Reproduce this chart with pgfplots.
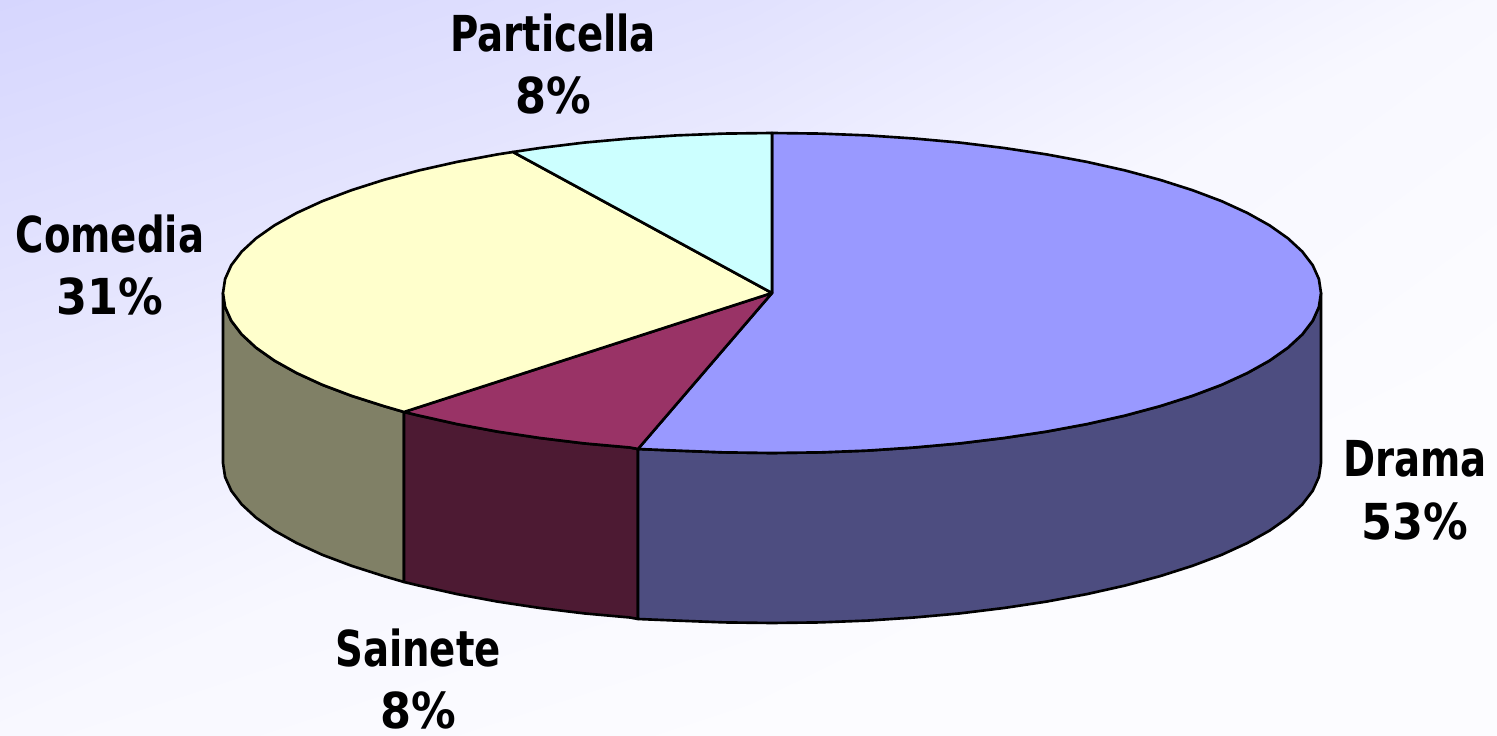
\documentclass[border=0pt]{standalone}
\usepackage{fontspec}
\newfontfamily\lbl{DejaVu Sans Bold}[FakeStretch=0.78]
\newfontfamily\pct{DejaVu Sans Bold}[FakeStretch=0.90]
\usepackage{pgfplots}
\pgfplotsset{compat=1.18}
\usepgfplotslibrary{patchplots}
\definecolor{cDrama}{HTML}{9999FF}
\definecolor{cDramaS}{HTML}{4D4D80}
\definecolor{cSain}{HTML}{993366}
\definecolor{cSainS}{HTML}{4D1A33}
\definecolor{cCom}{HTML}{FFFFCC}
\definecolor{cComS}{HTML}{808066}
\definecolor{cPart}{HTML}{CCFFFF}
\tikzset{lab/.style={font=\fontsize{14.1}{17.9}\selectfont, align=center, text=black, inner sep=0pt}}
\begin{document}
\begin{tikzpicture}
\begin{axis}[
  scale only axis, width=14.97cm, height=7.36cm,
  xmin=0, xmax=1497, ymin=0, ymax=736, y dir=reverse,
  hide axis, clip=true,
  colormap={bg}{rgb255=(214,214,254) rgb255=(252,252,255)},
  point meta min=0, point meta max=1,
]
% background
\addplot[patch, patch type=rectangle, shader=interp, point meta=explicit] coordinates {
 (0,0)[0] (750,0)[0.3] (750,368)[0.85] (0,368)[0.45]
 (750,0)[0.3] (1497,0)[0.9] (1497,368)[1] (750,368)[0.85]
 (0,368)[0.45] (750,368)[0.85] (750,736)[1] (0,736)[0.9]
 (750,368)[0.85] (1497,368)[1] (1497,736)[1] (750,736)[1]
};
\pgfplotsset{every axis plot/.append style={draw=black, line width=0.75pt, line join=round}}
% Comedia side
\addplot[fill=cComS, mark=none] coordinates {
 (404,412) (383.8,406.1) (351.5,395.8) (322.3,384.8) (296.6,373) (274.4,360.6) (256.1,347.7) (241.7,334.4) (231.3,320.8) (225.1,307) (223,293)
 (223,463) (225.1,477) (231.3,490.8) (241.7,504.4) (256.1,517.7) (274.4,530.6) (296.6,543) (322.3,554.8) (351.5,565.8) (383.8,576.1) (404,582)
} -- cycle;
% Sainete side
\addplot[fill=cSainS, mark=none] coordinates {
 (638,449) (629.9,447.5) (584.2,443.4) (540,438) (497.5,431.6) (457.1,424.1) (419.1,415.6) (404,412)
 (404,582) (419.1,585.6) (457.1,594.1) (497.5,601.6) (540,608) (584.2,613.4) (629.9,617.5) (638,619)
} -- cycle;
% Drama side
\addplot[fill=cDramaS, mark=none] coordinates {
 (1321,293) (1318.9,307) (1312.7,320.8) (1302.3,334.4) (1287.9,347.7) (1269.6,360.6) (1247.4,373) (1221.7,384.8) (1192.5,395.8) (1160.2,406.1) (1124.9,415.6) (1086.9,424.1) (1046.5,431.6) (1004,438) (959.8,443.4) (914.1,447.5) (867.3,450.6) (819.9,452.4) (772,453) (724.1,452.4) (676.7,450.6) (638,449)
 (638,619) (676.7,620.6) (724.1,622.4) (772,623) (819.9,622.4) (867.3,620.6) (914.1,617.5) (959.8,613.4) (1004,608) (1046.5,601.6) (1086.9,594.1) (1124.9,585.6) (1160.2,576.1) (1192.5,565.8) (1221.7,554.8) (1247.4,543) (1269.6,530.6) (1287.9,517.7) (1302.3,504.4) (1312.7,490.8) (1318.9,477) (1321,463)
} -- cycle;
% Drama top
\addplot[fill=cDrama, mark=none] coordinates {
 (772,293) (772,133) (819.9,133.6) (867.3,135.4) (914.1,138.5) (959.8,142.6) (1004,148) (1046.5,154.4) (1086.9,161.9) (1124.9,170.4) (1160.2,179.9) (1192.5,190.2) (1221.7,201.2) (1247.4,213) (1269.6,225.4) (1287.9,238.3) (1302.3,251.6) (1312.7,265.2) (1318.9,279) (1321,293)
 (1318.9,307) (1312.7,320.8) (1302.3,334.4) (1287.9,347.7) (1269.6,360.6) (1247.4,373) (1221.7,384.8) (1192.5,395.8) (1160.2,406.1) (1124.9,415.6) (1086.9,424.1) (1046.5,431.6) (1004,438) (959.8,443.4) (914.1,447.5) (867.3,450.6) (819.9,452.4) (772,453) (724.1,452.4) (676.7,450.6) (638,449)
} -- cycle;
% Sainete top
\addplot[fill=cSain, mark=none] coordinates {
 (772,293) (638,449) (629.9,447.5) (584.2,443.4) (540,438) (497.5,431.6) (457.1,424.1) (419.1,415.6) (404,412)
} -- cycle;
% Comedia top
\addplot[fill=cCom, mark=none] coordinates {
 (772,293) (404,412) (383.8,406.1) (351.5,395.8) (322.3,384.8) (296.6,373) (274.4,360.6) (256.1,347.7) (241.7,334.4) (231.3,320.8) (225.1,307) (223,293) (225.1,279) (231.3,265.2) (241.7,251.6) (256.1,238.3) (274.4,225.4) (296.6,213) (322.3,201.2) (351.5,190.2) (383.8,179.9) (419.1,170.4) (457.1,161.9) (497.5,154.4) (513,152)
} -- cycle;
% Particella top
\addplot[fill=cPart, mark=none] coordinates {
 (772,293) (513,152) (540,148) (584.2,142.6) (629.9,138.5) (676.7,135.4) (724.1,133.6) (772,133)
} -- cycle;
\node[lab] at (axis cs:553,64) {{\lbl Particella}\\{\pct 8\%}};
\node[lab] at (axis cs:110,265) {{\lbl Comedia}\\{\pct 31\%}};
\node[lab] at (axis cs:1415,490) {{\lbl Drama}\\{\pct 53\%}};
\node[lab] at (axis cs:418,679) {{\lbl Sainete}\\{\pct 8\%}};
\end{axis}
\end{tikzpicture}
\end{document}
